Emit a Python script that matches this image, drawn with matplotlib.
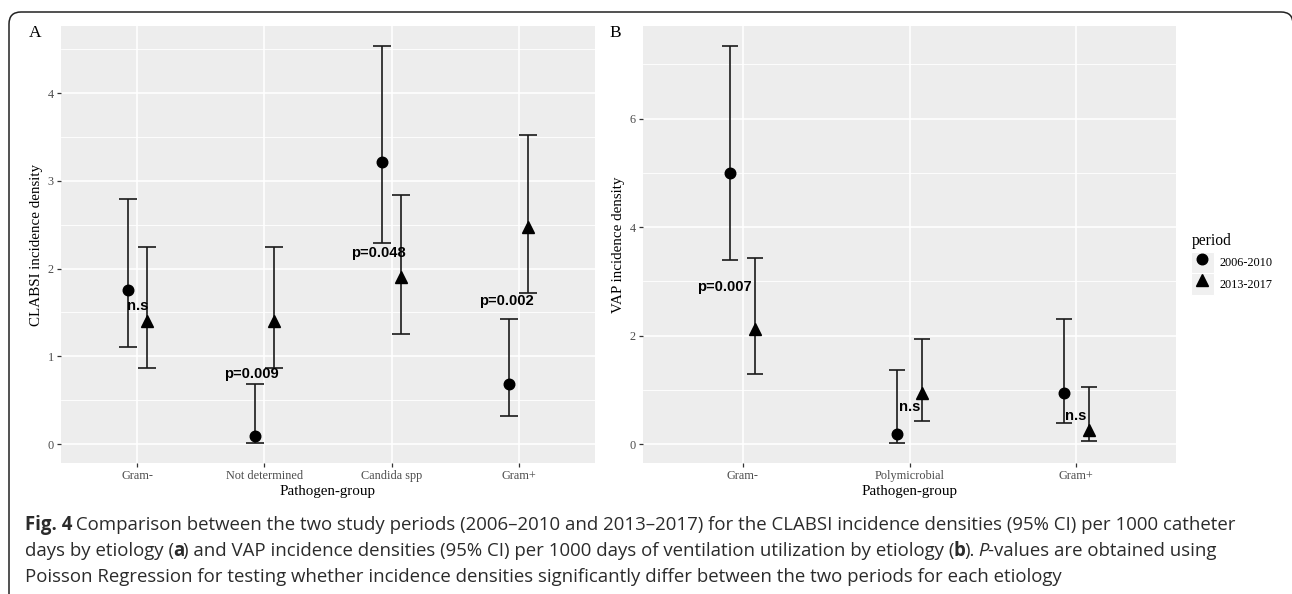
import numpy as np
import matplotlib
matplotlib.use('Agg')
import matplotlib.pyplot as plt
from matplotlib.legend_handler import HandlerLine2D
from matplotlib.patches import Rectangle, FancyBboxPatch
from matplotlib.transforms import IdentityTransform

# Panel A: CLABSI incidence density by pathogen group
cats_a = ["Gram-", "Not determined", "Candida spp", "Gram+"]
a_0610 = [1.76, 0.095, 3.22, 0.68]
a_0610_lo = [1.11, 0.01, 2.29, 0.32]
a_0610_hi = [2.79, 0.69, 4.54, 1.43]
a_1317 = [1.40, 1.40, 1.90, 2.47]
a_1317_lo = [0.87, 0.87, 1.26, 1.72]
a_1317_hi = [2.245, 2.245, 2.84, 3.52]
a_pvals = ["n.s", "p=0.009", "p=0.048", "p=0.002"]
a_pval_x = [0.0, 0.9, 1.9, 2.9]
a_pval_y = [1.575, 0.80, 2.18, 1.63]

# Panel B: VAP incidence density by pathogen group
cats_b = ["Gram-", "Polymicrobial", "Gram+"]
b_0610 = [4.99, 0.18, 0.95]
b_0610_lo = [3.40, 0.02, 0.39]
b_0610_hi = [7.34, 1.36, 2.31]
b_1317 = [2.12, 0.94, 0.26]
b_1317_lo = [1.29, 0.43, 0.06]
b_1317_hi = [3.44, 1.93, 1.05]
b_pvals = ["p=0.007", "n.s", "n.s"]
b_pval_x = [-0.11, 1.0, 2.0]
b_pval_y = [2.89, 0.68, 0.52]

periods = ["2006-2010", "2013-2017"]

SERIF = "Liberation Serif"
SANS = "Liberation Sans"
CAP = "Open Sans"
W, H = 1292, 594

fig = plt.figure(figsize=(W / 100, H / 100), dpi=100)
fig.patch.set_facecolor('white')


def px_axes(l, t, r, b):
    return fig.add_axes([l / W, 1 - b / H, (r - l) / W, (b - t) / H])


def draw_panel(ax, cats, v1, lo1, hi1, v2, lo2, hi2, ptxt, px, py, ylabel, yticks, cap):
    x = np.arange(len(cats))
    ax.set_facecolor('#EDEDED')
    series = [(-0.075, v1, lo1, hi1, 'o', 7.6), (0.075, v2, lo2, hi2, '^', 8.6)]
    for (off, v, lo, hi, mk, ms), lab in zip(series, periods):
        v, lo, hi = np.array(v), np.array(lo), np.array(hi)
        ax.errorbar(x + off, v, yerr=[v - lo, hi - v], fmt='none', ecolor='#1a1a1a',
                    elinewidth=1.2, capsize=cap, capthick=1.2, zorder=3)
        ax.plot(x + off, v, linestyle='none', marker=mk, ms=ms, color='black',
                zorder=4, label=lab)
    for t, tx, ty in zip(ptxt, px, py):
        ax.text(tx, ty, t, ha='center', va='center', fontsize=10.6, fontweight='bold',
                family=SANS, color='black', zorder=5)

    # ggplot-like limits: 0.6 on discrete axis, 5% on continuous
    ymin = min(min(lo1), min(lo2))
    ymax = max(max(hi1), max(hi2))
    pad = 0.05 * (ymax - ymin)
    ax.set_ylim(ymin - pad, ymax + pad)
    ax.set_xlim(-0.6, len(cats) - 0.4)

    ax.set_xticks(x)
    ax.set_xticklabels(cats)
    ax.set_yticks(yticks)
    ax.set_yticklabels([str(t) for t in yticks])
    step = yticks[1] - yticks[0]
    ax.set_yticks(np.arange(yticks[0] + step / 2, ymax + pad, step), minor=True)
    ax.grid(True, which='major', color='white', lw=1.2)
    ax.grid(True, which='minor', axis='y', color='white', lw=0.6)
    ax.set_axisbelow(True)
    for s in ax.spines.values():
        s.set_visible(False)
    ax.tick_params(axis='both', which='major', length=3.2, width=0.9, color='#333333',
                   labelcolor='#4D4D4D', labelsize=8.8, pad=2)
    ax.tick_params(axis='y', which='minor', length=0)
    for lbl in ax.get_xticklabels() + ax.get_yticklabels():
        lbl.set_family(SERIF)
    ax.set_xlabel("Pathogen-group", family=SERIF, fontsize=10.8, labelpad=2)
    ax.set_ylabel(ylabel, family=SERIF, fontsize=10.8, labelpad=3)


ax_a = px_axes(61, 26, 595, 463)
ax_b = px_axes(643, 26, 1176, 463)

draw_panel(ax_a, cats_a, a_0610, a_0610_lo, a_0610_hi, a_1317, a_1317_lo, a_1317_hi,
           a_pvals, a_pval_x, a_pval_y, "CLABSI incidence density", [0, 1, 2, 3, 4], 6.4)
draw_panel(ax_b, cats_b, b_0610, b_0610_lo, b_0610_hi, b_1317, b_1317_lo, b_1317_hi,
           b_pvals, b_pval_x, b_pval_y, "VAP incidence density", [0, 2, 4, 6], 5.8)

fig.text(29 / W, 1 - 33 / H, "A", family=SERIF, fontsize=12.5, va='center', ha='left')
fig.text(609 / W, 1 - 33 / H, "B", family=SERIF, fontsize=12.5, va='center', ha='left')


# legend with grey key backgrounds, like ggplot
class KeyHandler(HandlerLine2D):
    def create_artists(self, legend, orig_handle, xdescent, ydescent, width, height,
                       fontsize, trans):
        arts = super().create_artists(legend, orig_handle, xdescent, ydescent, width,
                                      height, fontsize, trans)
        bg = Rectangle((-xdescent, -ydescent), width, height, facecolor='#F0F0F0',
                       edgecolor='white', lw=0.8, transform=trans)
        return [bg] + list(arts)


fig.text(1192 / W, 1 - 241 / H, "period", family=SERIF, fontsize=11.2,
         va='center', ha='left')
handles, labels = ax_b.get_legend_handles_labels()
leg = ax_b.legend(handles, labels, loc='upper left',
                  bbox_to_anchor=(1191 / W, 1 - 252 / H), bbox_transform=fig.transFigure,
                  frameon=False, borderpad=0, borderaxespad=0, labelspacing=0,
                  handlelength=1.85, handleheight=2.3, handletextpad=0.45,
                  prop={'family': SERIF, 'size': 8.8},
                  handler_map={h: KeyHandler(numpoints=1) for h in handles})

# outer rounded frame (right and bottom sides run off the image)
frame = FancyBboxPatch((9, -30), 1284, 594 - 12 + 30,
                       boxstyle="round,pad=0,rounding_size=12",
                       facecolor='none', edgecolor='#222222', lw=1.1,
                       transform=IdentityTransform())
fig.add_artist(frame)

# caption
line1 = [("Fig. 4", 'bold', 'normal'),
         (" Comparison between the two study periods (2006\u20132010 and 2013\u20132017) for the "
          "CLABSI incidence densities (95% CI) per 1000 catheter", 'normal', 'normal')]
line2 = [("days by etiology (", 'normal', 'normal'), ("a", 'bold', 'normal'),
         (") and VAP incidence densities (95% CI) per 1000 days of ventilation "
          "utilization by etiology (", 'normal', 'normal'),
         ("b", 'bold', 'normal'), (").", 'normal', 'normal'), (" P", 'normal', 'italic'),
         ("-values are obtained using", 'normal', 'normal')]
line3 = [("Poisson Regression for testing whether incidence densities significantly differ "
          "between the two periods for each etiology", 'normal', 'normal')]

renderer = fig.canvas.get_renderer()
probe = fig.text(0, 0, "".join(r[0] for r in line1), family=[CAP, 'DejaVu Sans'],
                 fontsize=10)
probe_w = probe.get_window_extent(renderer).width
probe.remove()
cap_size = 10 * 1210 / probe_w


def put_line(runs, x0, ybase):
    x = x0
    for txt, wt, st in runs:
        t = fig.text(x / W, 1 - ybase / H, txt, family=[CAP, 'DejaVu Sans'],
                     fontsize=cap_size, fontweight=wt, fontstyle=st, va='baseline',
                     ha='left', color='#2B2B2B')
        x = t.get_window_extent(renderer).x1 - 1.0


put_line(line1, 25, 530)
put_line(line2, 25, 556)
put_line(line3, 25, 582)

fig.savefig("out.png", dpi=100)
